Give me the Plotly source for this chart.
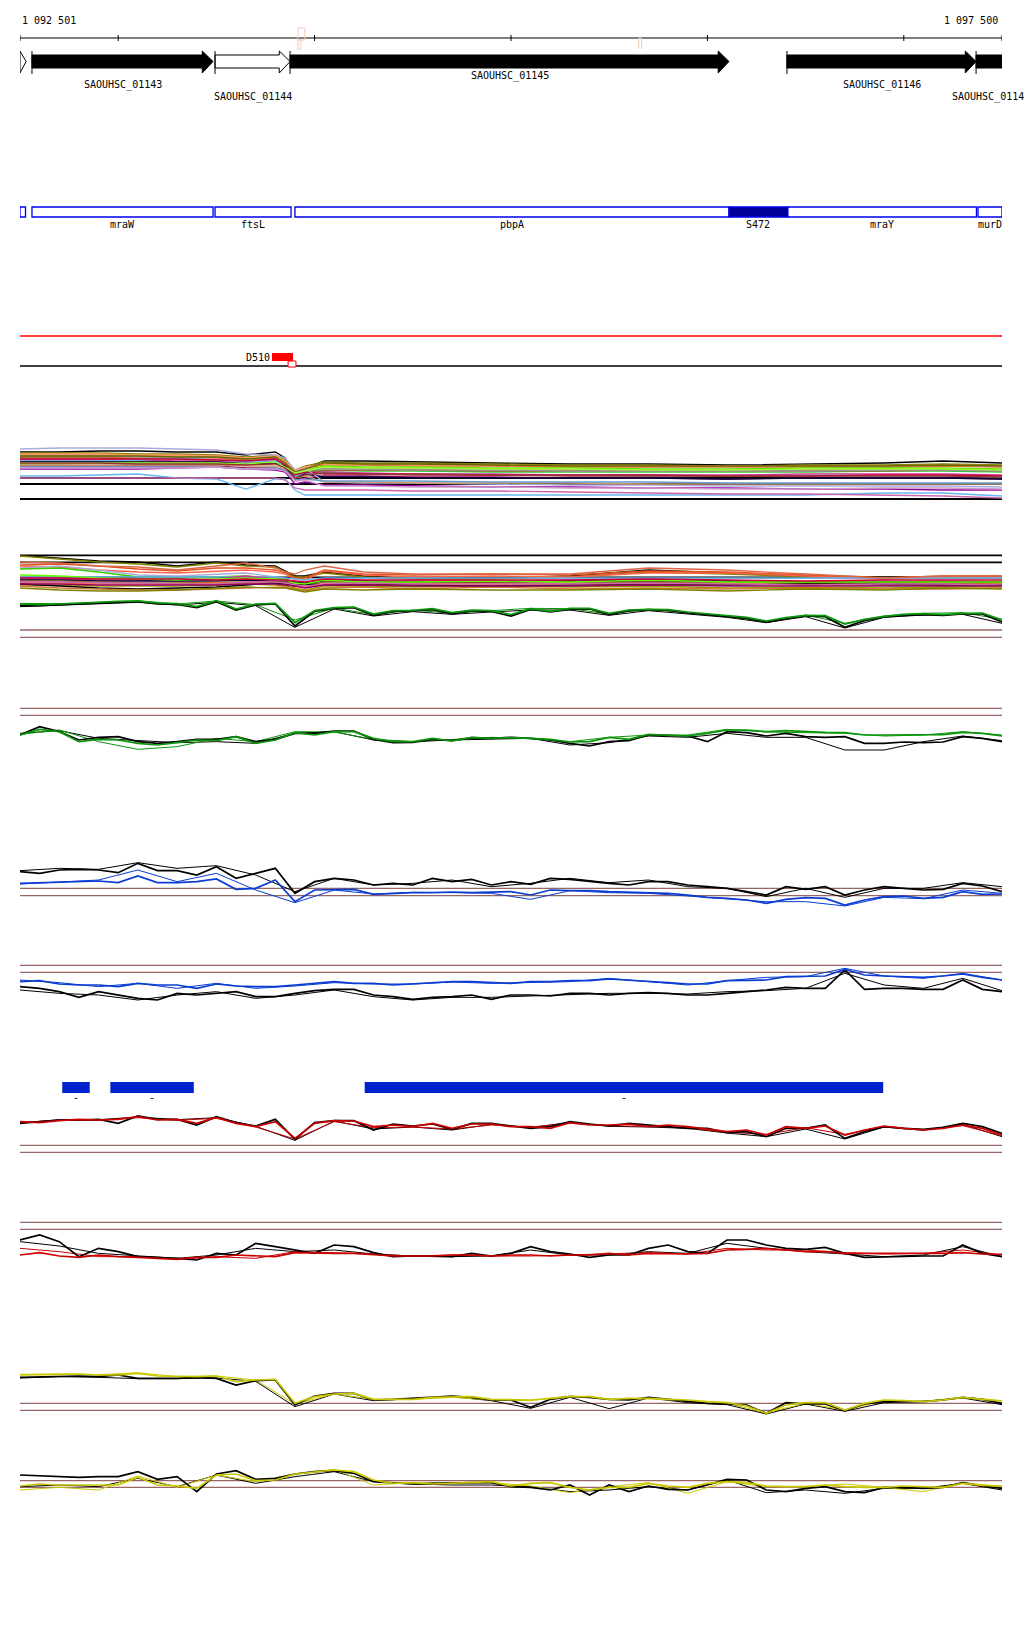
import plotly.graph_objects as go

# ---------------------------------------------------------------- data
START, END = 1092500, 1097500
POS51 = [START + 100 * i for i in range(51)]
POS26 = [START + 200 * i for i in range(26)]
BPOS = [1092500, 1092700, 1092900, 1093100, 1093300, 1093500, 1093650, 1093800,
        1093850, 1093900, 1093950, 1094050, 1094250, 1094500, 1094900, 1095300,
        1095700, 1096100, 1096500, 1096900, 1097200, 1097500]

RULER_TICKS = [1092500, 1093000, 1094000, 1095000, 1096000, 1097000, 1097500]
RULER_LEFT_LABEL = "1 092 501"
RULER_RIGHT_LABEL = "1 097 500"
PINK_MARKS = [1093915, 1095650]

GENE_NAMES = ["", "SAOUHSC_01143", "SAOUHSC_01144", "SAOUHSC_01145", "SAOUHSC_01146", "SAOUHSC_01147"]
GENE_START = [1092500, 1092561, 1093493, 1093875, 1096405, 1097368]
GENE_END = [1092531, 1093483, 1093875, 1096110, 1097368, 1097520]
GENE_FILLED = [False, True, False, True, True, True]
GENE_HAS_HEAD = [True, True, True, True, True, False]
GENE_LABEL_ROW = [0, 1, 2, 0, 1, 2]

DOMAIN_NAMES = ["", "mraW", "ftsL", "pbpA", "S472", "mraY", "murD"]
DOMAIN_START = [1092500, 1092561, 1093493, 1093900, 1096110, 1096410, 1097378]
DOMAIN_END = [1092528, 1093483, 1093880, 1096110, 1096410, 1097370, 1097500]
DOMAIN_FILLED = [False, False, False, False, True, False, False]

VARIANT_NAME = "D510"
VARIANT_START, VARIANT_END = 1093783, 1093890
VARIANT_MARK = (1093865, 1093905)

BLUE_START = [1092715, 1092960, 1094255]
BLUE_END = [1092855, 1093385, 1096895]
BLUE_LABELS = ["-", "-", "-"]

# ---- bundle A (values at BPOS)
BUNDLE_A_COLORS = ["#000000", "#808000", "#E07030", "#FF6040", "#66DD00", "#33CC33",
                   "#996633", "#CC3399", "#66B3EE", "#990066", "#CC0033", "#000033",
                   "#AAAADD", "#CC9966", "#990099", "#66B8F0", "#CC66AA", "#999999",
                   "#FF9966", "#666600", "#99FF33", "#6699CC", "#CC99CC", "#993333"]
BUNDLE_A = [
    [53, 53, 54, 54, 53, 53, 50, 53, 47, 31, 37, 44, 44, 43, 42, 41, 41, 40, 41, 42, 44, 42],
    [52, 52, 52, 51, 51, 50, 48, 50, 45, 35, 39, 43, 42, 42, 41, 40, 40, 39, 40, 40, 41, 40],
    [50, 50, 50, 50, 49, 49, 47, 49, 43, 33, 37, 40, 40, 39, 39, 38, 38, 38, 38, 38, 39, 38],
    [48, 48, 48, 47, 47, 47, 45, 47, 41, 32, 35, 37, 37, 36, 36, 35, 35, 35, 35, 36, 36, 35],
    [43, 43, 43, 43, 43, 42, 42, 44, 39, 33, 35, 39, 38, 38, 37, 37, 36, 36, 37, 37, 37, 36],
    [41, 41, 42, 41, 41, 40, 41, 42, 38, 31, 34, 35, 34, 34, 33, 33, 33, 33, 33, 34, 34, 33],
    [47, 47, 47, 46, 46, 45, 44, 46, 40, 31, 33, 34, 35, 35, 34, 34, 34, 34, 34, 34, 35, 34],
    [45, 45, 45, 45, 44, 44, 43, 45, 39, 29, 32, 33, 32, 31, 31, 30, 30, 30, 31, 31, 31, 30],
    [44, 44, 44, 45, 47, 45, 43, 44, 39, 29, 31, 32, 31, 31, 30, 30, 29, 29, 29, 29, 29, 28],
    [39, 39, 39, 39, 39, 39, 37, 37, 35, 25, 27, 29, 29, 28, 28, 27, 27, 26, 27, 27, 27, 26],
    [46, 46, 46, 46, 46, 45, 44, 46, 40, 30, 33, 31, 31, 31, 30, 30, 30, 29, 29, 30, 30, 29],
    [43, 43, 43, 43, 43, 43, 41, 42, 39, 27, 31, 28, 28, 27, 27, 27, 27, 26, 27, 27, 27, 26],
    [56, 57, 57, 57, 56, 55, 51, 50, 47, 35, 37, 23, 22, 22, 21, 20, 20, 19, 19, 19, 19, 18],
    [40, 40, 40, 40, 40, 40, 39, 39, 36, 27, 29, 23, 23, 22, 22, 22, 21, 21, 21, 21, 21, 21],
    [36, 36, 36, 36, 37, 38, 36, 35, 33, 21, 23, 20, 20, 19, 18, 18, 17, 17, 16, 16, 15, 15],
    [29, 29, 30, 31, 27, 26, 16, 26, 26, 15, 10, 10, 10, 10, 10, 10, 10, 10, 10, 12, 12, 9],
    [27, 27, 27, 27, 27, 27, 27, 27, 25, 17, 15, 15, 15, 14, 14, 13, 12, 11, 11, 10, 9, 7],
    [49, 49, 49, 48, 48, 48, 46, 48, 42, 33, 35, 36, 36, 35, 35, 34, 34, 34, 34, 35, 35, 34],
    [51, 51, 51, 50, 50, 49, 47, 49, 44, 34, 38, 41, 41, 40, 40, 39, 39, 39, 39, 39, 40, 39],
    [49, 49, 49, 49, 48, 48, 46, 48, 42, 33, 36, 42, 41, 41, 40, 39, 39, 39, 39, 39, 40, 39],
    [42, 42, 42, 42, 42, 42, 41, 43, 38, 32, 34, 38, 37, 37, 36, 36, 35, 35, 36, 36, 36, 35],
    [38, 38, 38, 38, 38, 38, 36, 37, 35, 25, 26, 24, 24, 24, 23, 23, 23, 22, 22, 22, 22, 22],
    [37, 37, 37, 37, 37, 38, 36, 36, 34, 24, 25, 19, 19, 18, 18, 17, 17, 16, 16, 17, 17, 16],
    [42, 42, 42, 41, 41, 41, 40, 41, 37, 27, 30, 32, 31, 30, 30, 29, 29, 29, 29, 29, 29, 28],
]
BUNDLE_A_REFS = [27, 21, 6]

# ---- bundle B (values at BPOS)
BUNDLE_B_COLORS = ["#000000", "#808000", "#E05020", "#FF6347", "#AAAADD", "#33CC00",
                   "#66B3EE", "#CC3399", "#000033", "#996633", "#FF7F27", "#999900",
                   "#000000", "#CC7733", "#808000", "#66FF00", "#CC0033", "#CC66AA",
                   "#990066", "#DD6644"]
BUNDLE_B = [
    [39.5, 37, 34, 33, 29, 33, 30, 29, 24, 19, 19, 23, 19, 17, 17, 19, 25, 22, 19, 18, 18, 18],
    [39, 36, 33, 31, 28, 32, 29, 28, 23, 18, 18, 22, 18, 16, 16, 18, 23, 21, 18, 17, 17, 17],
    [30, 31, 29, 26, 24, 27, 27, 25, 22, 17, 17, 25, 21, 20, 21, 20, 24, 23, 20, 17, 19, 19],
    [29, 28, 25, 23, 22, 24, 25, 23, 21, 16, 15, 24, 20, 18, 19, 18, 22, 22, 19, 16, 18, 18],
    [27, 29, 25, 20, 19, 21, 22, 18, 16, 13, 11, 15, 14, 13, 14, 15, 14, 13, 13, 14, 13, 13],
    [26, 27, 23, 18, 17, 18, 19, 17, 16, 12, 10, 14, 13, 12, 13, 14, 13, 13, 12, 13, 12, 12],
    [18, 18, 18, 18, 18, 18, 18, 18, 17, 16, 15, 17, 17, 17, 17, 17, 17, 17, 17, 17, 17, 17],
    [16, 16, 15, 15, 14, 16, 19, 16, 15, 12, 11, 15, 13, 14, 14, 14, 15, 14, 13, 13, 14, 13],
    [15, 15, 14, 14, 14, 14, 15, 14, 14, 13, 12, 14, 14, 13, 13, 14, 14, 14, 13, 13, 13, 13],
    [14, 14, 13, 12, 12, 13, 13, 13, 13, 11, 9, 13, 13, 12, 12, 12, 13, 12, 12, 11, 12, 11],
    [12, 12, 11, 11, 11, 12, 12, 12, 11, 9, 8, 11, 11, 11, 11, 10, 11, 11, 10, 10, 10, 11],
    [10, 10, 9, 9, 9, 10, 11, 10, 9, 7, 5, 9, 9, 8, 9, 8, 9, 7, 8, 7, 8, 8],
    [11, 9, 7, 6, 7, 8, 10, 12, 11, 9, 11, 10, 10, 10, 9, 10, 10, 10, 11, 10, 10, 10],
    [9, 7, 6, 5, 5, 6, 7, 7, 8, 6, 4, 7, 8, 6, 8, 6, 7, 6, 7, 6, 6, 7],
    [7, 5, 4, 4, 5, 7, 8, 7, 7, 5, 3, 6, 5, 6, 5, 5, 6, 4, 6, 5, 7, 6],
    [20, 19, 17, 16, 15, 16, 17, 16, 15, 12, 11, 15, 13, 13, 14, 13, 15, 13, 13, 13, 13, 13],
    [17, 17, 16, 16, 16, 15, 16, 15, 15, 14, 13, 16, 15, 15, 15, 15, 16, 15, 14, 15, 15, 15],
    [13, 13, 12, 12, 11, 11, 13, 13, 12, 10, 9, 11, 12, 11, 11, 11, 12, 11, 10, 11, 11, 10],
    [11, 11, 10, 10, 10, 10, 11, 11, 10, 9, 7, 10, 10, 9, 9, 9, 10, 9, 9, 9, 9, 9],
    [33, 32, 29, 28, 25, 29, 32, 27, 23, 21, 25, 29, 23, 21, 21, 21, 27, 25, 21, 17, 19, 19],
]
BUNDLE_B_REFS = [39.7, 32.7, 17.7]

# ---- paired signal tracks (main series at POS51, thin series at POS26)
B2_GREEN = [108, 106, 108, 111, 113, 116, 117, 111, 109, 100, 118, 93, 108, 110, 52, 88, 97, 99, 78, 88, 89, 94, 82, 90, 88, 76, 94, 86, 95, 95, 80, 90, 92, 91, 84, 78, 72, 68, 57, 67, 74, 73, 48, 62, 71, 77, 79, 76, 80, 81, 60]
B2_BLACK = [103, 103, 106, 109, 110, 113, 115, 108, 107, 97, 115, 90, 105, 108, 42, 86, 95, 97, 74, 86, 87, 91, 78, 88, 86, 72, 92, 84, 92, 93, 76, 88, 90, 89, 81, 75, 70, 65, 53, 65, 72, 70, 38, 58, 69, 74, 76, 74, 78, 78, 54]
B2_GREEN_THIN = [110, 109, 112, 118, 108, 117, 106, 60, 96, 76, 90, 80, 88, 95, 94, 78, 93, 82, 70, 55, 75, 50, 72, 80, 82, 62]
B2_BLACK_THIN = [100, 104, 108, 113, 105, 113, 103, 38, 93, 72, 85, 77, 84, 90, 90, 74, 88, 79, 68, 52, 70, 36, 68, 75, 77, 50]
B2_REFS = [30, 8]

C_GREEN = [75, 92, 85, 55, 62, 60, 50, 45, 52, 60, 58, 70, 50, 60, 82, 75, 85, 85, 65, 55, 55, 65, 57, 68, 65, 67, 65, 62, 54, 55, 68, 62, 77, 75, 72, 80, 90, 90, 85, 88, 85, 83, 82, 75, 75, 75, 75, 76, 83, 80, 72]
C_BLACK = [75, 100, 85, 60, 68, 70, 55, 50, 55, 62, 62, 70, 55, 62, 80, 80, 87, 87, 62, 52, 53, 62, 58, 67, 65, 68, 65, 60, 50, 42, 55, 58, 75, 73, 72, 55, 85, 82, 72, 80, 70, 68, 70, 50, 50, 54, 52, 54, 70, 65, 55]
C_GREEN_THIN = [77, 90, 55, 32, 40, 65, 55, 85, 84, 62, 55, 62, 68, 64, 55, 68, 75, 75, 92, 84, 83, 80, 72, 75, 85, 75]
C_BLACK_THIN = [80, 88, 65, 58, 52, 55, 50, 80, 85, 60, 55, 60, 62, 65, 45, 52, 72, 68, 80, 68, 68, 30, 30, 55, 72, 58]
C_REFS = [155, 134]

D_BLUE = [80, 82, 84, 85, 87, 82, 102, 82, 82, 85, 93, 62, 65, 90, 25, 60, 62, 62, 47, 50, 52, 52, 54, 52, 53, 55, 45, 60, 58, 58, 55, 53, 53, 50, 45, 38, 35, 30, 20, 32, 37, 35, 15, 30, 40, 42, 35, 38, 55, 47, 48]
D_BLACK = [115, 110, 120, 122, 120, 112, 140, 118, 118, 105, 130, 95, 110, 125, 50, 85, 95, 90, 75, 80, 75, 95, 85, 92, 75, 85, 77, 95, 92, 85, 80, 75, 85, 85, 75, 70, 65, 55, 45, 70, 62, 70, 45, 60, 70, 65, 60, 62, 80, 72, 55]
D_BLUE_THIN = [78, 83, 90, 120, 85, 110, 60, 22, 60, 48, 53, 52, 50, 32, 58, 52, 50, 42, 34, 25, 25, 12, 38, 34, 60, 50]
D_BLACK_THIN = [118, 125, 122, 142, 125, 133, 105, 55, 95, 75, 80, 90, 70, 80, 95, 82, 90, 70, 65, 40, 65, 38, 65, 65, 82, 70]
D_REFS = [65, 43]

E_BLUE = [85, 88, 78, 75, 75, 70, 80, 75, 75, 65, 78, 72, 70, 70, 75, 80, 85, 80, 80, 75, 78, 82, 85, 85, 82, 80, 85, 85, 88, 88, 93, 90, 87, 82, 78, 78, 88, 90, 90, 100, 102, 102, 122, 105, 102, 100, 98, 102, 108, 98, 90]
E_BLACK = [70, 65, 55, 38, 55, 45, 35, 30, 50, 45, 50, 55, 40, 40, 50, 58, 62, 62, 45, 40, 32, 38, 40, 45, 32, 45, 45, 42, 50, 50, 45, 50, 52, 50, 45, 45, 50, 55, 60, 68, 65, 65, 120, 62, 65, 65, 62, 62, 90, 62, 55]
E_BLUE_THIN = [90, 82, 70, 80, 65, 80, 65, 72, 82, 78, 78, 84, 80, 82, 85, 95, 85, 75, 88, 98, 100, 125, 102, 95, 110, 90]
E_BLACK_THIN = [60, 50, 45, 30, 45, 55, 35, 45, 60, 40, 30, 38, 38, 42, 48, 50, 50, 48, 55, 58, 65, 110, 75, 65, 95, 58]
E_REFS = [134, 113]

E2_RED = [100, 97, 103, 107, 105, 107, 115, 105, 107, 95, 113, 95, 85, 100, 50, 95, 103, 102, 85, 90, 85, 95, 80, 93, 93, 85, 85, 80, 97, 90, 90, 93, 85, 90, 85, 77, 70, 75, 60, 85, 80, 87, 60, 75, 87, 80, 75, 80, 90, 80, 60]
E2_BLACK = [95, 100, 105, 105, 107, 95, 117, 107, 107, 90, 115, 97, 87, 107, 47, 97, 103, 103, 75, 93, 87, 93, 77, 95, 95, 87, 80, 85, 100, 93, 87, 95, 90, 87, 80, 80, 67, 70, 55, 80, 80, 90, 50, 70, 85, 80, 77, 83, 95, 85, 65]
E2_RED_THIN = [98, 104, 104, 112, 104, 110, 84, 48, 100, 82, 84, 78, 90, 84, 95, 88, 86, 82, 68, 62, 82, 62, 85, 76, 88, 58]
E2_BLACK_THIN = [96, 106, 106, 114, 106, 112, 86, 44, 102, 78, 84, 75, 92, 82, 98, 86, 84, 80, 66, 55, 78, 48, 84, 74, 92, 55]
E2_REFS = [29, 8]

F_RED = [45, 52, 42, 38, 45, 40, 38, 35, 32, 38, 38, 45, 42, 40, 52, 50, 50, 50, 45, 42, 42, 42, 45, 45, 42, 45, 45, 42, 45, 45, 50, 45, 50, 48, 48, 50, 60, 62, 65, 60, 55, 55, 50, 50, 50, 50, 48, 50, 52, 48, 47]
F_BLACK = [90, 105, 85, 40, 65, 55, 40, 38, 35, 30, 50, 45, 80, 70, 60, 50, 75, 70, 52, 40, 42, 42, 40, 50, 42, 50, 70, 55, 48, 38, 45, 45, 65, 75, 55, 50, 90, 90, 75, 65, 62, 68, 50, 38, 40, 40, 42, 42, 75, 50, 40]
F_RED_THIN = [65, 55, 40, 40, 32, 40, 35, 55, 52, 48, 42, 45, 42, 42, 45, 50, 52, 48, 65, 60, 60, 52, 48, 50, 60, 45]
F_BLACK_THIN = [85, 72, 50, 42, 35, 45, 65, 55, 60, 48, 42, 40, 42, 60, 45, 45, 55, 50, 80, 65, 55, 48, 40, 45, 70, 40]
F_REFS = [143, 122]

G_YELLOW = [135, 135, 137, 138, 135, 135, 140, 132, 130, 130, 132, 115, 120, 122, 50, 70, 78, 80, 62, 62, 62, 68, 70, 70, 62, 60, 60, 65, 70, 70, 62, 65, 65, 62, 60, 55, 52, 42, 20, 45, 52, 52, 30, 50, 60, 58, 55, 60, 68, 62, 57]
G_BLACK = [128, 130, 132, 132, 130, 135, 125, 125, 125, 128, 125, 105, 118, 120, 45, 72, 80, 80, 60, 62, 65, 70, 72, 68, 60, 60, 38, 62, 70, 68, 62, 60, 68, 62, 55, 50, 48, 45, 20, 52, 48, 48, 28, 48, 55, 55, 55, 60, 68, 62, 50]
G_YELLOW_THIN = [137, 138, 136, 142, 130, 132, 120, 48, 78, 62, 62, 68, 60, 58, 72, 62, 64, 58, 50, 22, 50, 30, 58, 56, 68, 58]
G_BLACK_THIN = [126, 130, 128, 124, 124, 126, 116, 40, 78, 58, 64, 70, 58, 35, 68, 34, 66, 52, 46, 18, 48, 26, 52, 56, 66, 46]
G_REFS = [50, 29]

H_YELLOW = [42, 48, 45, 45, 45, 45, 68, 45, 42, 35, 75, 78, 58, 60, 78, 85, 90, 85, 60, 50, 52, 48, 50, 52, 55, 42, 50, 52, 38, 30, 38, 38, 50, 42, 38, 50, 55, 52, 42, 40, 40, 45, 40, 38, 38, 42, 40, 38, 50, 44, 42]
H_BLACK = [75, 73, 70, 68, 70, 70, 85, 62, 70, 25, 78, 88, 62, 65, 78, 85, 88, 80, 55, 52, 48, 50, 52, 52, 52, 40, 38, 30, 45, 15, 45, 25, 42, 32, 30, 45, 62, 60, 30, 25, 35, 40, 25, 22, 38, 38, 35, 38, 52, 42, 35]
H_YELLOW_THIN = [30, 38, 30, 72, 38, 75, 55, 78, 92, 45, 52, 50, 52, 42, 22, 40, 52, 20, 55, 40, 40, 48, 38, 25, 52, 40]
H_BLACK_THIN = [40, 45, 40, 65, 40, 75, 50, 70, 85, 55, 48, 45, 45, 40, 25, 30, 40, 30, 60, 22, 30, 20, 35, 35, 50, 30]
H_REFS = [58, 38]

# ---------------------------------------------------------------- layout helpers
W, H = 1024, 1640
FONT = "DejaVu Sans Mono"
BROWN = "#996666"


def py(px):
    return 1 - px / H


# panel key -> (top px, bottom px, axis max)
PANELS = {
    "A": (440, 505, 65), "B": (548, 595, 47), "B2": (595, 640, 135),
    "C": (700, 760, 180), "D": (855, 910, 165), "E": (960, 1010, 150),
    "E2": (1105, 1155, 150), "F": (1215, 1270, 165), "G": (1365, 1420, 165),
    "H": (1460, 1500, 120),
}
AX = {}
layout_axes = {}
for n, (k, (top, bot, mx)) in enumerate(PANELS.items(), start=1):
    ref = "y" if n == 1 else f"y{n}"
    AX[k] = ref
    name = "yaxis" if n == 1 else f"yaxis{n}"
    layout_axes[name] = dict(domain=[py(bot), py(top)], range=[0, mx], visible=False,
                             fixedrange=True, anchor="x")

fig = go.Figure()
shapes = []
annotations = []


def line(xs, ys, color, width, ax):
    fig.add_trace(go.Scatter(x=xs, y=ys, mode="lines", yaxis=ax,
                             line=dict(color=color, width=width), hoverinfo="skip"))


def hline(val, color, ax, width=1.3):
    shapes.append(dict(type="line", xref="x", yref=ax, x0=START, x1=END, y0=val, y1=val,
                       line=dict(color=color, width=width), layer="below"))


# ---- ruler
shapes.append(dict(type="line", xref="x", yref="paper", x0=START, x1=END, y0=py(38), y1=py(38),
                   line=dict(color="black", width=1)))
for t in RULER_TICKS:
    shapes.append(dict(type="line", xref="x", yref="paper", x0=t, x1=t, y0=py(35), y1=py(41),
                       line=dict(color="black", width=1)))
shapes.append(dict(type="rect", xref="x", yref="paper", x0=PINK_MARKS[0], x1=PINK_MARKS[0] + 35,
                   y0=py(40), y1=py(28), line=dict(color="#F5C8B8", width=1)))
shapes.append(dict(type="rect", xref="x", yref="paper", x0=PINK_MARKS[0], x1=PINK_MARKS[0] + 15,
                   y0=py(49), y1=py(40), line=dict(color="#F5C8B8", width=1)))
shapes.append(dict(type="rect", xref="x", yref="paper", x0=PINK_MARKS[1], x1=PINK_MARKS[1] + 15,
                   y0=py(48), y1=py(38), line=dict(color="#F5C8B8", width=1)))
annotations.append(dict(xref="x", yref="paper", x=START, y=py(20), text=RULER_LEFT_LABEL,
                        showarrow=False, xanchor="left", yanchor="middle",
                        font=dict(family=FONT, size=10, color="black")))
annotations.append(dict(xref="x", yref="paper", x=END - 10, y=py(20), text=RULER_RIGHT_LABEL,
                        showarrow=False, xanchor="right", yanchor="middle",
                        font=dict(family=FONT, size=10, color="black")))

# ---- genes
HEAD = 55
LABEL_Y = [76, 85, 97]
for name, s, e, filled, head, row in zip(GENE_NAMES, GENE_START, GENE_END, GENE_FILLED,
                                          GENE_HAS_HEAD, GENE_LABEL_ROW):
    bt, bb, ht, hb, mid = py(55), py(68), py(51), py(73), py(61.5)
    if head and e - s <= HEAD:
        path = f"M{s},{ht} L{e},{mid} L{s},{hb} Z"
    elif head:
        hx = e - HEAD
        path = (f"M{s},{bt} L{hx},{bt} L{hx},{ht} L{e},{mid} L{hx},{hb} "
                f"L{hx},{bb} L{s},{bb} Z")
    else:
        path = f"M{s},{bt} L{e},{bt} L{e},{bb} L{s},{bb} Z"
    shapes.append(dict(type="path", xref="x", yref="paper", path=path,
                       fillcolor="black" if filled else "white",
                       line=dict(color="black", width=1)))
    if name:
        shapes.append(dict(type="line", xref="x", yref="paper", x0=s, x1=s, y0=py(51), y1=py(74),
                           line=dict(color="black", width=1)))
        annotations.append(dict(xref="x", yref="paper", x=(s + min(e, END + 60)) / 2,
                                y=py(LABEL_Y[row]), text=name, showarrow=False,
                                xanchor="center", yanchor="middle",
                                font=dict(family=FONT, size=10, color="black")))

# ---- domains
for name, s, e, filled in zip(DOMAIN_NAMES, DOMAIN_START, DOMAIN_END, DOMAIN_FILLED):
    shapes.append(dict(type="rect", xref="x", yref="paper", x0=s, x1=e, y0=py(217), y1=py(207),
                       fillcolor="#000099" if filled else "white",
                       line=dict(color="#0000EE", width=1.3)))
    if name:
        annotations.append(dict(xref="x", yref="paper", x=(s + e) / 2, y=py(224), text=name,
                                showarrow=False, xanchor="center", yanchor="middle",
                                font=dict(family=FONT, size=10, color="black")))

# ---- variant track
shapes.append(dict(type="line", xref="x", yref="paper", x0=START, x1=END, y0=py(336), y1=py(336),
                   line=dict(color="#FF0000", width=1.3)))
shapes.append(dict(type="line", xref="x", yref="paper", x0=START, x1=END, y0=py(366), y1=py(366),
                   line=dict(color="black", width=1.3)))
shapes.append(dict(type="rect", xref="x", yref="paper", x0=VARIANT_START, x1=VARIANT_END,
                   y0=py(361), y1=py(353), fillcolor="#FF0000", line=dict(width=0)))
shapes.append(dict(type="rect", xref="x", yref="paper", x0=VARIANT_MARK[0], x1=VARIANT_MARK[1],
                   y0=py(367), y1=py(361), fillcolor="white", line=dict(color="#FF0000", width=1)))
annotations.append(dict(xref="x", yref="paper", x=VARIANT_START, y=py(357.5), text=VARIANT_NAME,
                        showarrow=False, xanchor="right", yanchor="middle",
                        font=dict(family=FONT, size=10, color="black")))

# ---- bundles
for vals, col in zip(BUNDLE_A, BUNDLE_A_COLORS):
    line(BPOS, vals, col, 1.3, AX["A"])
for v in BUNDLE_A_REFS:
    hline(v, "black", AX["A"], 1.8)
for vals, col in zip(BUNDLE_B, BUNDLE_B_COLORS):
    line(BPOS, vals, col, 1.3, AX["B"])
for v in BUNDLE_B_REFS:
    hline(v, "black", AX["B"], 1.8)

# ---- paired tracks
TRACKS = [
    ("B2", "#0A960A", B2_GREEN, B2_BLACK, B2_GREEN_THIN, B2_BLACK_THIN, B2_REFS),
    ("C", "#0A960A", C_GREEN, C_BLACK, C_GREEN_THIN, C_BLACK_THIN, C_REFS),
    ("D", "#0A3CD2", D_BLUE, D_BLACK, D_BLUE_THIN, D_BLACK_THIN, D_REFS),
    ("E", "#0A3CD2", E_BLUE, E_BLACK, E_BLUE_THIN, E_BLACK_THIN, E_REFS),
    ("E2", "#CC0000", E2_RED, E2_BLACK, E2_RED_THIN, E2_BLACK_THIN, E2_REFS),
    ("F", "#CC0000", F_RED, F_BLACK, F_RED_THIN, F_BLACK_THIN, F_REFS),
    ("G", "#C8C800", G_YELLOW, G_BLACK, G_YELLOW_THIN, G_BLACK_THIN, G_REFS),
    ("H", "#C8C800", H_YELLOW, H_BLACK, H_YELLOW_THIN, H_BLACK_THIN, H_REFS),
]
for key, col, main_c, main_k, thin_c, thin_k, refs in TRACKS:
    for v in refs:
        hline(v, BROWN, AX[key], 1.3)
    line(POS26, thin_k, "black", 1, AX[key])
    line(POS26, thin_c, col, 1, AX[key])
    line(POS51, main_k, "black", 1.7, AX[key])
    line(POS51, main_c, col, 1.7, AX[key])

# ---- blue feature boxes
for s, e, lab in zip(BLUE_START, BLUE_END, BLUE_LABELS):
    shapes.append(dict(type="rect", xref="x", yref="paper", x0=s, x1=e, y0=py(1093), y1=py(1082),
                       fillcolor="#0022CC", line=dict(width=0)))
    annotations.append(dict(xref="x", yref="paper", x=(s + e) / 2, y=py(1097), text=lab,
                            showarrow=False, xanchor="center", yanchor="middle",
                            font=dict(family=FONT, size=10, color="black")))

fig.update_layout(
    width=W, height=H, margin=dict(l=0, r=0, t=0, b=0),
    paper_bgcolor="white", plot_bgcolor="white", showlegend=False,
    xaxis=dict(domain=[20 / W, 1002 / W], range=[START, END], visible=False, fixedrange=True),
    shapes=shapes, annotations=annotations,
    **layout_axes,
)
fig.write_html(
    "out.html",
    config={"displayModeBar": False, "staticPlot": True},
    post_script=("document.documentElement.style.overflow='hidden';"
                 "document.body.style.margin='0';document.body.style.overflow='hidden';"),
)
